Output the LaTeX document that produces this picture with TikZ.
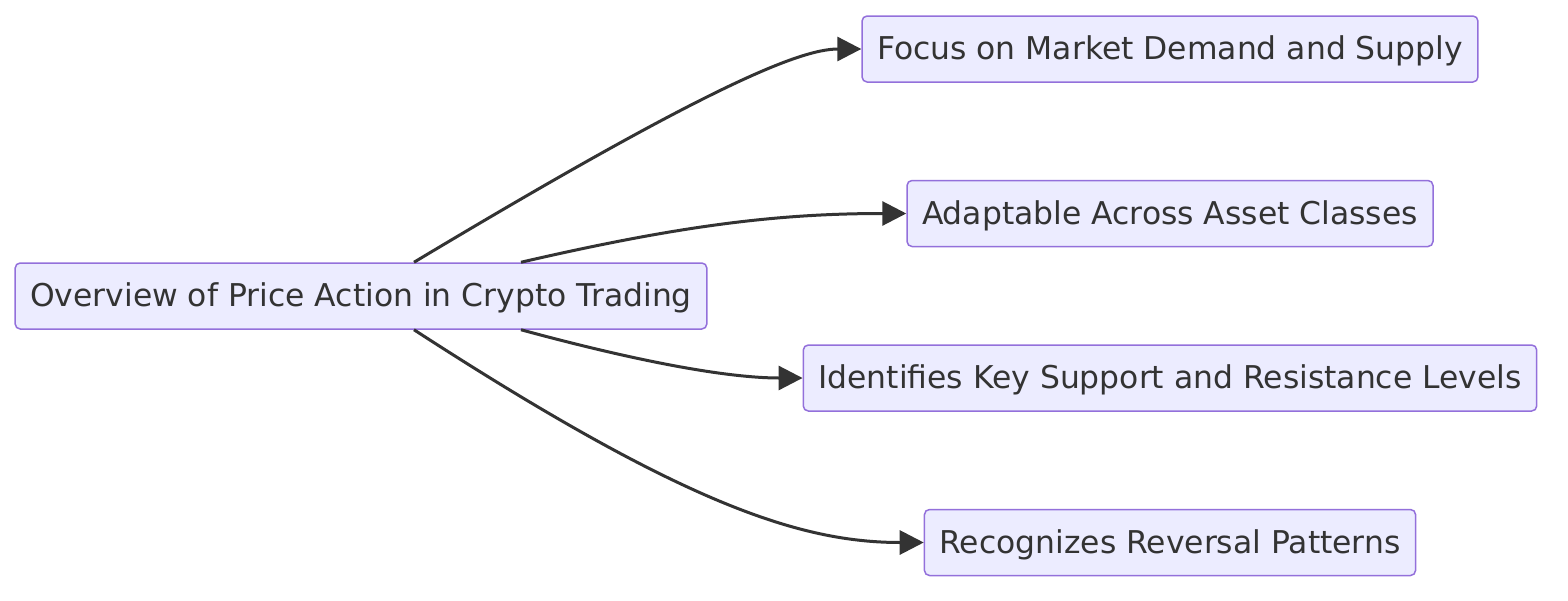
\documentclass[tikz,border=0pt]{standalone}
\usepackage{fontspec}
\setmainfont{DejaVu Sans}
\usetikzlibrary{arrows.meta, positioning}

\definecolor{boxfill}{HTML}{ECECFF}
\definecolor{boxline}{HTML}{9370DB}
\definecolor{inkgray}{HTML}{333333}

\begin{document}
\begin{tikzpicture}[
  x=0.5pt, y=-0.5pt,
  node distance=48.5pt and 0.25cm,
  topic/.style={draw=boxline, fill=boxfill, rectangle, rounded corners=2.5pt,
                line width=0.75pt, minimum height=33pt, inner xsep=7.5pt,
                text height=14.6pt, text depth=3.8pt,
                text=inkgray, font=\fontsize{15.7}{18}\selectfont},
  link/.style={-{Triangle[length=12pt, width=12pt]}, line width=1.5pt,
               draw=inkgray},
]
  \useasboundingbox (0,0) rectangle (1568,600);
  \node[topic] (overview) at (361,296) {Overview of Price Action in Crypto Trading};
  \node[topic] (demand) at (1170,49) {Focus on Market Demand and Supply};
  \node[topic, below=of demand] (assets) {Adaptable Across Asset Classes};
  \node[topic, below=of assets] (levels) {Identifies Key Support and Resistance Levels};
  \node[topic, below=of levels] (reversal) {Recognizes Reversal Patterns};
  \draw[link] ([xshift=26.5pt]overview.north) .. controls +(287,-172) and +(-63,0) .. (demand.west);
  \draw[link] ([xshift=80pt]overview.north) .. controls +(160,-37) and +(-128,0) .. (assets.west);
  \draw[link] ([xshift=80pt]overview.south) .. controls +(140,38) and +(-64,0) .. (levels.west);
  \draw[link] ([xshift=26.5pt]overview.south) .. controls +(267,173) and +(-125,0) .. (reversal.west);
\end{tikzpicture}
\end{document}
